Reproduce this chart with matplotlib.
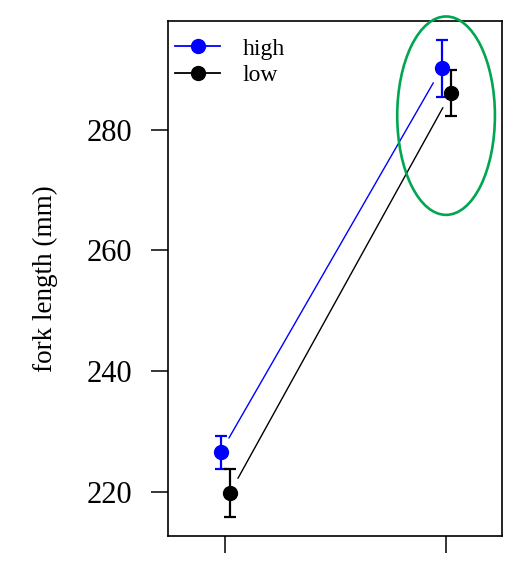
import matplotlib
matplotlib.use("Agg")
import matplotlib.pyplot as plt
from matplotlib.patches import Ellipse

plt.rcParams['font.family'] = ['Liberation Serif', 'DejaVu Serif']

groups = ["high", "low"]
x_levels = [1, 2]
high_means = [226.5, 290.2]
high_err = [2.75, 4.7]
low_means = [219.8, 286.1]
low_err = [4.0, 3.75]
colors = {"high": "#0000FF", "low": "#000000"}
offsets = {"high": -0.02, "low": 0.022}
yticks = [220, 240, 260, 280]

fig = plt.figure(figsize=(5.14, 5.62), dpi=100)
ax = fig.add_axes([168/514, 1-536/562, (502-168)/514, (536-20.7)/562])

series = {"high": (high_means, high_err), "low": (low_means, low_err)}
for g in groups:
    m, e = series[g]
    xs = [x + offsets[g] for x in x_levels]
    c = colors[g]
    ax.errorbar(xs, m, yerr=e, fmt='o', color=c, ms=10, elinewidth=1.6,
                capsize=4.5, capthick=1.6, zorder=3)
    ax.annotate("", xy=(xs[1], m[1]), xytext=(xs[0], m[0]),
                arrowprops=dict(arrowstyle='-', color=c, lw=1.0,
                                shrinkA=12, shrinkB=12))
    ax.plot([], [], '-o', color=c, ms=10, lw=1.3, label=g)

ax.set_xlim(0.742, 2.253)
ax.set_ylim(212.65, 298.1)
ax.set_xticks(x_levels)
ax.set_xticklabels(["", ""])
ax.set_yticks(yticks)
ax.set_yticklabels([str(v) for v in yticks], fontsize=22)
ax.tick_params(axis='both', direction='out', length=12, width=1.1)
ax.tick_params(axis='y', pad=14)
for s in ax.spines.values():
    s.set_linewidth(1.2)
ax.set_ylabel("fork length (mm)", fontsize=19.5, labelpad=20)

leg = ax.legend(loc='upper left', bbox_to_anchor=(0.0, 0.98), frameon=False,
                fontsize=17, handlelength=1.9, handletextpad=0.95,
                labelspacing=0.2, borderpad=0.2, borderaxespad=0.1)

ell = Ellipse((2.0, 282.35), 0.442, 32.9, fill=False, edgecolor='#00A651',
              lw=1.9, clip_on=False, zorder=4)
ax.add_patch(ell)

fig.savefig("out.png", dpi=100)
